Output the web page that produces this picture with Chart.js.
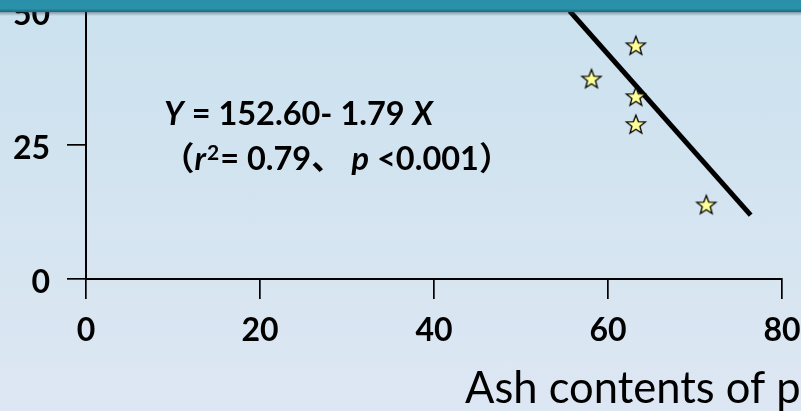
<!DOCTYPE html>
<html>
<head>
<meta charset="utf-8">
<script src="https://cdn.jsdelivr.net/npm/chart.js@4.4.1/dist/chart.umd.min.js"></script>
<style>
    html, body { margin: 0; padding: 0; }
    body {
        width: 801px;
        height: 411px;
        overflow: hidden;
        background: linear-gradient(#cbe1ee, #dde7f3);
    }
</style>
</head>
<body>
<canvas id="chart" width="801" height="411"></canvas>
<script>
// ash content (%) vs value
const ashContent = [63.2, 58.1, 63.2, 63.2, 71.3];
const siteValues = [43.6, 37.4, 34.1, 28.9, 13.9];

// regression line ends
const fitX = [55.6, 76.4];
const fitY = [50, 11.9];

const xTicks = [0, 20, 40, 60, 80];
const yTicks = [0, 25, 50];

const axisTitle = 'Ash contents of p';
const eqLine1 = [['Y', 'i'], [' = 152.60- 1.79 ', ''], ['X', 'i']];
const eqLine2 = [['（', ''], ['r', 'i'], ['2', 'sup'], ['= 0.79、 ', ''], ['p', 'i'], [' <0.001）', '']];

const FONT = 'Lato, "Noto Sans CJK SC", sans-serif';

// yellow five point star used as the marker
function makeStar(r) {
    const c = document.createElement('canvas');
    const size = Math.ceil(r * 2 + 4);
    c.width = size;
    c.height = size;
    const g = c.getContext('2d');
    const cx = size / 2, cy = size / 2 + 1;
    g.beginPath();
    for (let i = 0; i < 10; i++) {
        const rad = i % 2 === 0 ? r : r * 0.42;
        const a = -Math.PI / 2 + i * Math.PI / 5;
        const px = cx + rad * Math.cos(a);
        const py = cy + rad * Math.sin(a);
        if (i === 0) g.moveTo(px, py); else g.lineTo(px, py);
    }
    g.closePath();
    g.fillStyle = '#ffff99';
    g.fill();
    g.lineWidth = 1.3;
    g.strokeStyle = '#000';
    g.stroke();
    return c;
}

function drawRich(ctx, parts, x, y, size) {
    let cx = x;
    parts.forEach(([text, kind]) => {
        if (kind === 'sup') {
            ctx.font = 'bold ' + Math.round(size * 0.66) + 'px ' + FONT;
            ctx.fillText(text, cx + 1, y - size * 0.3);
            cx += 2;
        } else {
            ctx.font = (kind === 'i' ? 'italic ' : '') + 'bold ' + size + 'px ' + FONT;
            ctx.fillText(text, cx, y);
        }
        cx += ctx.measureText(text).width;
    });
}

const decorations = {
    id: 'decorations',
    afterDraw(chart) {
        const ctx = chart.ctx;
        ctx.save();
        // equation
        ctx.fillStyle = '#000';
        ctx.textBaseline = 'alphabetic';
        drawRich(ctx, eqLine1, 164, 125, 32.5);
        drawRich(ctx, eqLine2, 162, 170, 32.5);

        // axis title (runs off the right edge)
        ctx.font = '43.5px ' + FONT;
        ctx.fillText(axisTitle, 465, 403);

        // slide header bar on top
        const bar = ctx.createLinearGradient(0, 0, 0, 12);
        bar.addColorStop(0, '#2a90aa');
        bar.addColorStop(0.7, '#2a92ab');
        bar.addColorStop(1, '#1e6678');
        ctx.fillStyle = bar;
        ctx.fillRect(0, 0, 801, 12);
        const shade = ctx.createLinearGradient(0, 12, 0, 16);
        shade.addColorStop(0, 'rgba(40,70,80,0.45)');
        shade.addColorStop(1, 'rgba(40,70,80,0)');
        ctx.fillStyle = shade;
        ctx.fillRect(0, 12, 801, 4);
        ctx.restore();
    }
};

const ctx = document.getElementById('chart').getContext('2d');

const chart = new Chart(ctx, {
    type: 'scatter',
    data: {
        datasets: [
            {
                label: 'fit',
                data: fitX.map((x, i) => ({ x: x, y: fitY[i] })),
                showLine: true,
                borderColor: '#000',
                borderWidth: 5,
                pointRadius: 0,
                order: 2
            },
            {
                label: 'sites',
                data: ashContent.map((x, i) => ({ x: x, y: siteValues[i] })),
                pointStyle: makeStar(10),
                pointRadius: 10,
                order: 1
            }
        ]
    },
    options: {
        responsive: false,
        animation: false,
        layout: { padding: { top: 9, right: 19, left: 0, bottom: 0 } },
        plugins: {
            legend: { display: false },
            tooltip: { enabled: false }
        },
        scales: {
            x: {
                min: 0,
                max: 80,
                afterBuildTicks: (scale) => { scale.ticks = xTicks.map(v => ({ value: v })); },
                afterFit: (scale) => {
                    scale.height = 132;
                    scale.paddingLeft = 0;
                    scale.paddingRight = 0;
                },
                border: { color: '#000', width: 2 },
                grid: { drawOnChartArea: false, drawTicks: true, tickLength: 20, color: '#000', lineWidth: 1.7 },
                ticks: {
                    color: '#000',
                    padding: 12,
                    maxRotation: 0,
                    font: { family: FONT, size: 32, weight: 'bold' }
                }
            },
            y: {
                min: 0,
                max: 50,
                afterBuildTicks: (scale) => { scale.ticks = yTicks.map(v => ({ value: v })); },
                afterFit: (scale) => {
                    scale.width = 86;
                    scale.paddingTop = 0;
                    scale.paddingBottom = 0;
                },
                border: { color: '#000', width: 2 },
                grid: { drawOnChartArea: false, drawTicks: true, tickLength: 19, color: '#000', lineWidth: 1.7 },
                ticks: {
                    color: '#000',
                    padding: 17,
                    labelOffset: 4,
                    font: { family: FONT, size: 32, weight: 'bold' }
                }
            }
        }
    },
    plugins: [decorations]
});
</script>
</body>
</html>
